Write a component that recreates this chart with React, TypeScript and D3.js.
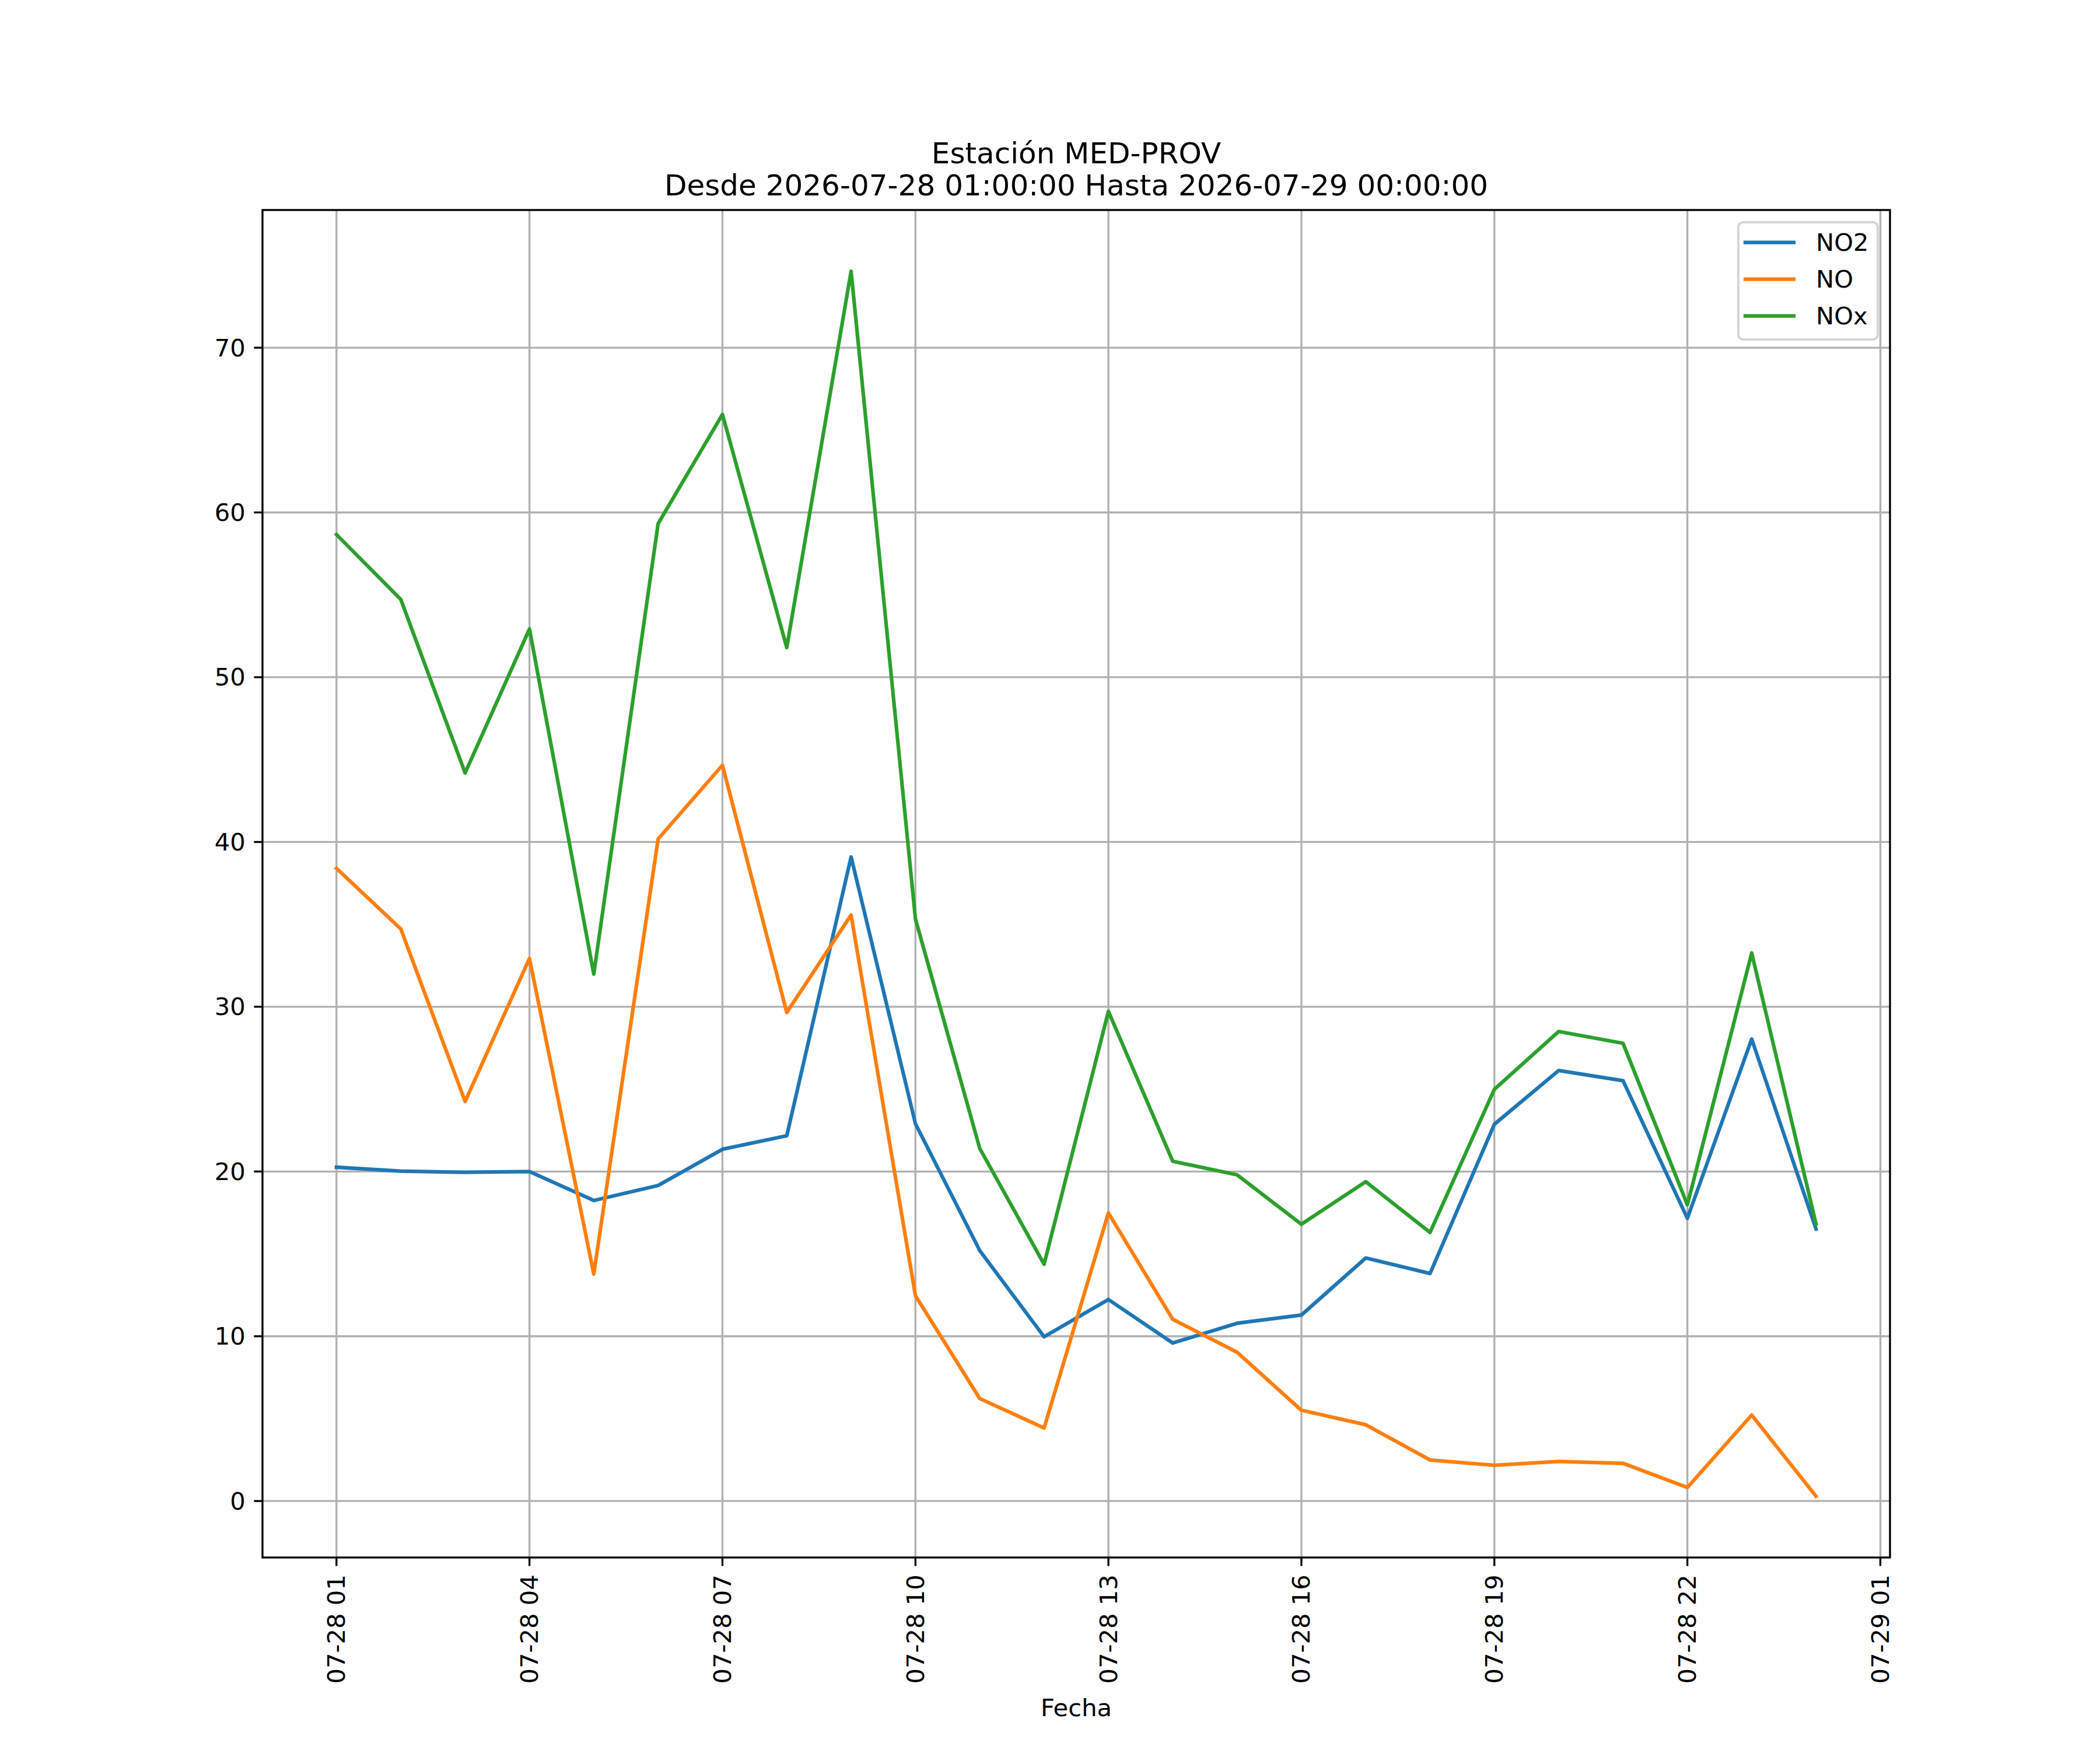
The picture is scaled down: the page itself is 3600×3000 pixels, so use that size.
import * as d3 from 'd3';

const W = 3600;
const H = 3000;
const m = { left: 450, right: 3240, top: 360, bottom: 2670 };

const times = [
  '2026-07-28 01:00', '2026-07-28 02:00', '2026-07-28 03:00', '2026-07-28 04:00',
  '2026-07-28 05:00', '2026-07-28 06:00', '2026-07-28 07:00', '2026-07-28 08:00',
  '2026-07-28 09:00', '2026-07-28 10:00', '2026-07-28 11:00', '2026-07-28 12:00',
  '2026-07-28 13:00', '2026-07-28 14:00', '2026-07-28 15:00', '2026-07-28 16:00',
  '2026-07-28 17:00', '2026-07-28 18:00', '2026-07-28 19:00', '2026-07-28 20:00',
  '2026-07-28 21:00', '2026-07-28 22:00', '2026-07-28 23:00', '2026-07-29 00:00'
];

const no2 = [20.26, 20.02, 19.95, 20.0, 18.24, 19.15, 21.35, 22.17, 39.09, 22.9, 15.2, 9.97,
  12.23, 9.59, 10.79, 11.29, 14.75, 13.81, 22.87, 26.13, 25.51, 17.16, 28.04, 16.51];
const no = [38.4, 34.72, 24.25, 32.93, 13.78, 40.18, 44.66, 29.65, 35.57, 12.46, 6.22, 4.43,
  17.48, 11.03, 9.03, 5.51, 4.63, 2.49, 2.17, 2.4, 2.29, 0.82, 5.22, 0.29];
const nox = [58.66, 54.72, 44.19, 52.93, 31.98, 59.32, 65.95, 51.8, 74.64, 35.33, 21.4, 14.37,
  29.72, 20.62, 19.8, 16.8, 19.38, 16.3, 24.99, 28.5, 27.78, 17.98, 33.26, 16.82];

const seriesNames = ['NO2', 'NO', 'NOx'];
const seriesColors = ['#1f77b4', '#ff7f0e', '#2ca02c'];
const yTicks = [0, 10, 20, 30, 40, 50, 60, 70];

const titleLines = ['Estación MED-PROV', 'Desde 2026-07-28 01:00:00 Hasta 2026-07-29 00:00:00'];
const xLabel = 'Fecha';

const parse = d3.timeParse('%Y-%m-%d %H:%M');
const fmt = d3.timeFormat('%m-%d %H');
const FONT = 'DejaVu Sans';

export default function App() {
  const dates = times.map(t => parse(t) as Date);
  const allSeries = [no2, no, nox];

  const [t0, t1] = d3.extent(dates) as [Date, Date];
  const span = +t1 - +t0;
  const x = d3
    .scaleTime()
    .domain([new Date(+t0 - span * 0.05), new Date(+t1 + span * 0.05)])
    .range([m.left, m.right]);

  const all = allSeries.flat();
  const lo = d3.min(all) || 0;
  const hi = d3.max(all) || 0;
  const pad = (hi - lo) * 0.05;
  const y = d3.scaleLinear().domain([lo - pad, hi + pad]).range([m.bottom, m.top]);

  // 3-hourly ticks starting at first sample
  const xTicks: Date[] = [];
  for (let d = t0; +d <= +x.domain()[1]; d = d3.timeHour.offset(d, 3)) xTicks.push(d);

  const line = d3
    .line<number>()
    .x((_, i) => x(dates[i]))
    .y(v => y(v));

  const gridW = 3.33;
  const tickLen = 14.6;
  const fs = 41.67;

  // legend
  const lg = { right: 3219, top: 381, w: 239, h: 201 };
  const rowY = [415.7, 478.7, 541.7];

  return (
    <svg width={W} height={H} style={{ position: 'absolute', left: 0, top: 0, background: '#fff' }}
      fontFamily={FONT}>
      <rect width={W} height={H} fill="#fff" />

      {/* grid */}
      {xTicks.map((t, i) => (
        <line key={'gx' + i} x1={x(t)} x2={x(t)} y1={m.top} y2={m.bottom} stroke="#b0b0b0" strokeWidth={gridW} />
      ))}
      {yTicks.map(v => (
        <line key={'gy' + v} x1={m.left} x2={m.right} y1={y(v)} y2={y(v)} stroke="#b0b0b0" strokeWidth={gridW} />
      ))}

      {/* series */}
      <g clipPath="url(#plotclip)">
        {allSeries.map((s, i) => (
          <path key={seriesNames[i]} d={line(s) || ''} fill="none" stroke={seriesColors[i]}
            strokeWidth={6.25} strokeLinejoin="round" strokeLinecap="square" />
        ))}
      </g>
      <defs>
        <clipPath id="plotclip">
          <rect x={m.left} y={m.top} width={m.right - m.left} height={m.bottom - m.top} />
        </clipPath>
      </defs>

      {/* spines */}
      <rect x={m.left} y={m.top} width={m.right - m.left} height={m.bottom - m.top}
        fill="none" stroke="#000" strokeWidth={gridW} />

      {/* x ticks */}
      {xTicks.map((t, i) => (
        <g key={'xt' + i}>
          <line x1={x(t)} x2={x(t)} y1={m.bottom} y2={m.bottom + tickLen} stroke="#000" strokeWidth={gridW} />
          <text transform={`translate(${x(t)},${m.bottom + tickLen + 14.6}) rotate(-90)`}
            textAnchor="end" dominantBaseline="central" fontSize={fs}>{fmt(t)}</text>
        </g>
      ))}

      {/* y ticks */}
      {yTicks.map(v => (
        <g key={'yt' + v}>
          <line x1={m.left - tickLen} x2={m.left} y1={y(v)} y2={y(v)} stroke="#000" strokeWidth={gridW} />
          <text x={m.left - tickLen - 14.6} y={y(v)} textAnchor="end" dominantBaseline="central" fontSize={fs}>{v}</text>
        </g>
      ))}

      <text x={(m.left + m.right) / 2} y={2942} textAnchor="middle" fontSize={fs}>{xLabel}</text>

      {/* title */}
      <text x={(m.left + m.right) / 2} y={280} textAnchor="middle" fontSize={50}>{titleLines[0]}</text>
      <text x={(m.left + m.right) / 2} y={335} textAnchor="middle" fontSize={50}>{titleLines[1]}</text>

      {/* legend */}
      <rect x={lg.right - lg.w} y={lg.top} width={lg.w} height={lg.h} rx={8.3} ry={8.3}
        fill="#fff" fillOpacity={0.8} stroke="#cccccc" strokeOpacity={0.8} strokeWidth={4.17} />
      {seriesNames.map((n, i) => (
        <g key={'lg' + n}>
          <line x1={2992} x2={3075} y1={rowY[i]} y2={rowY[i]} stroke={seriesColors[i]} strokeWidth={6.25} strokeLinecap="square" />
          <text x={3113} y={rowY[i]} dominantBaseline="central" fontSize={fs}>{n}</text>
        </g>
      ))}
    </svg>
  );
}
